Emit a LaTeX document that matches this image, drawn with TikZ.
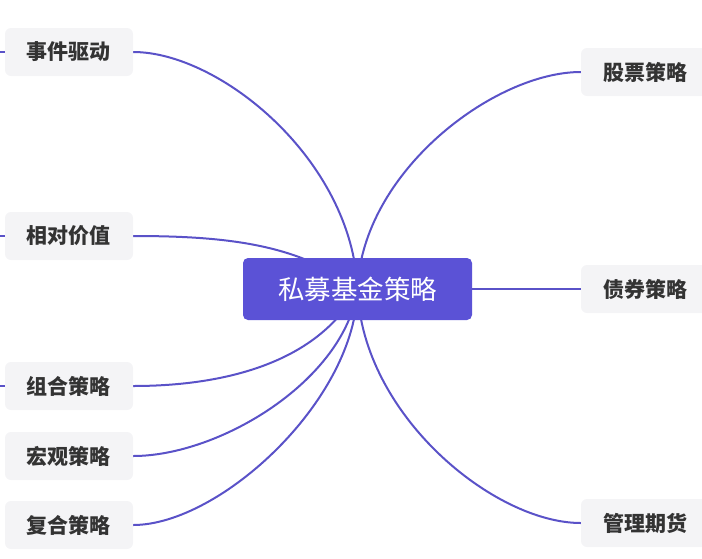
\documentclass[tikz,border=0pt]{standalone}
\usepackage{fontspec}
\newfontfamily\cjk{Noto Sans CJK SC}
\usetikzlibrary{backgrounds}
\definecolor{rootblue}{HTML}{5B52D6}
\definecolor{leafgray}{HTML}{F4F4F6}
\definecolor{leaftext}{HTML}{333333}
\definecolor{linkblue}{HTML}{5A52C8}
\tikzset{
  root/.style={fill=rootblue, rounded corners=5pt, minimum width=229pt, minimum height=62pt,
    inner sep=0pt, text=white, font=\cjk\fontsize{26.5}{30}\selectfont},
  leaf/.style={fill=leafgray, rounded corners=6pt, minimum width=128pt, minimum height=48pt,
    inner sep=0pt, text=leaftext, font=\cjk\bfseries\fontsize{21}{25}\selectfont},
  link/.style={draw=linkblue, line width=2pt}
}
\begin{document}
\begin{tikzpicture}[x=1pt,y=-1pt]
\useasboundingbox (0,0) rectangle (702,558);
\node[root] (root) at (357.5,289) {私募基金策略};
\node[leaf] (event) at (69,52) {事件驱动};
\node[leaf] (relval) at (69,236) {相对价值};
\node[leaf] (combo) at (69,386) {组合策略};
\node[leaf] (macro) at (69,456) {宏观策略};
\node[leaf] (multi) at (69,525) {复合策略};
\node[leaf] (stock) at (645,72) {股票策略};
\node[leaf] (bond) at (645,289) {债券策略};
\node[leaf] (cta) at (645,523) {管理期货};
\coordinate (eventL) at (-10,52);
\coordinate (relvalL) at (-10,236);
\coordinate (comboL) at (-10,386);
\begin{scope}[on background layer]
\path[link] (event.east) .. controls (220,52) and (352,160) .. (root.center);
\path[link] (relval.east) .. controls (230,236) and (300,245) .. (root.center);
\path[link] (combo.east) .. controls (230,386) and (320,360) .. (root.center);
\path[link] (macro.east) .. controls (220,456) and (345,380) .. (root.center);
\path[link] (multi.east) .. controls (220,525) and (356,400) .. (root.center);
\path[link] (stock.west) .. controls (494,72) and (362,172) .. (root.center);
\path[link] (bond.west) -- (root.center);
\path[link] (cta.west) .. controls (494,523) and (362,415) .. (root.center);
\path[link] (event.west) -- (eventL);
\path[link] (relval.west) -- (relvalL);
\path[link] (combo.west) -- (comboL);
\end{scope}
\end{tikzpicture}
\end{document}
